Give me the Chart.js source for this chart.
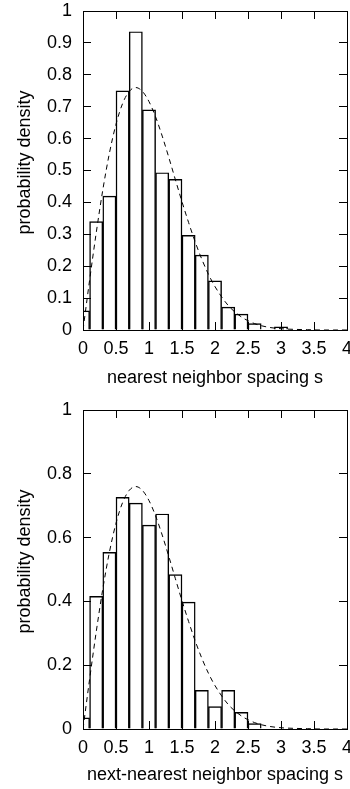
<!DOCTYPE html>
<html>
<head>
<meta charset="utf-8">
<script src="https://cdn.jsdelivr.net/npm/chart.js@4"></script>
<style>
  html, body { margin: 0; padding: 0; background: #fff; overflow: hidden; }
  canvas { display: block; }
</style>
</head>
<body>
<canvas id="top" width="350" height="395"></canvas>
<canvas id="bottom" width="350" height="394"></canvas>
<script>
// histogram bin centres (bin width 0.2, first bin clipped at s = 0)
const binCenters = [0, 0.2, 0.4, 0.6, 0.8, 1.0, 1.2, 1.4, 1.6, 1.8, 2.0, 2.2, 2.4, 2.6, 2.8, 3.0];
const nearestHist = [0.06, 0.34, 0.42, 0.75, 0.935, 0.69, 0.493, 0.472, 0.297, 0.235, 0.154, 0.072, 0.05, 0.02, 0, 0.01];
const nextNearestHist = [0.035, 0.416, 0.554, 0.726, 0.708, 0.639, 0.674, 0.484, 0.398, 0.121, 0.07, 0.121, 0.052, 0.017, 0, 0];

// dashed reference curve
const curveS = [0, 0.1, 0.2, 0.3, 0.4, 0.5, 0.6, 0.7, 0.8, 0.9, 1.0, 1.1, 1.2, 1.3, 1.4, 1.5, 1.6, 1.7, 1.8, 1.9, 2.0,
  2.2, 2.4, 2.6, 2.8, 3.0, 3.2, 3.4, 3.6, 3.8, 4.0];
const curveP = [0, 0.156, 0.304, 0.439, 0.554, 0.645, 0.710, 0.748, 0.760, 0.748, 0.716, 0.668, 0.608, 0.541, 0.471, 0.402,
  0.337, 0.276, 0.222, 0.175, 0.136, 0.077, 0.041, 0.020, 0.009, 0.004, 0.002, 0.001, 0, 0, 0];

const xTicks = [0, 0.5, 1, 1.5, 2, 2.5, 3, 3.5, 4];
const yTicksTop = [0, 0.1, 0.2, 0.3, 0.4, 0.5, 0.6, 0.7, 0.8, 0.9, 1];
const yTicksBottom = [0, 0.2, 0.4, 0.6, 0.8, 1];
const yTitle = "probability density";

const FONT = { family: "'Liberation Sans', Arial, sans-serif", size: 18 };

function fixSize(prop, size) {
  return (s) => {
    s[prop] = size;
    s.paddingLeft = 0; s.paddingRight = 0; s.paddingTop = 0; s.paddingBottom = 0;
  };
}
function setTicks(list) {
  return (s) => { s.ticks = list.map((v) => ({ value: v })); };
}

// y title sits a little above the middle of the axis, as in the original plot
const yTitlePlugin = {
  id: "yTitle",
  afterDraw(chart) {
    const { ctx, chartArea } = chart;
    ctx.save();
    ctx.translate(25.5, (chartArea.top + chartArea.bottom) / 2 - 8);
    ctx.rotate(-Math.PI / 2);
    ctx.font = "18px " + FONT.family;
    ctx.fillStyle = "#000";
    ctx.textAlign = "center";
    ctx.textBaseline = "middle";
    ctx.fillText(yTitle, 0, 0);
    ctx.restore();
  },
};

function makeChart(id, hist, yTicks, xTitle, topH, bottomH, titlePad) {
  const grid = { drawOnChartArea: false, drawTicks: true, tickLength: -8, color: "#000", lineWidth: 1 };
  const border = { display: true, color: "#000", width: 1 };
  return new Chart(document.getElementById(id), {
    type: "bar",
    data: {
      datasets: [
        {
          type: "line",
          data: curveS.map((s, i) => ({ x: s, y: curveP[i] })),
          borderColor: "#000",
          borderWidth: 1,
          borderDash: [5, 4],
          pointRadius: 0,
          cubicInterpolationMode: "monotone",
          fill: false,
          order: 0,
        },
        {
          type: "bar",
          data: binCenters.map((s, i) => ({ x: s, y: hist[i] })),
          backgroundColor: "rgba(255,255,255,0)",
          borderColor: "#000",
          borderWidth: 0.8,
          barPercentage: 1,
          categoryPercentage: 1,
          order: 1,
        },
      ],
    },
    options: {
      responsive: false,
      animation: false,
      layout: { padding: 0 },
      plugins: { legend: { display: false }, tooltip: { enabled: false } },
      scales: {
        x: {
          type: "linear", position: "bottom", min: 0, max: 4, offset: false,
          afterBuildTicks: setTicks(xTicks), afterFit: fixSize("height", bottomH),
          grid: { ...grid, offset: false }, border,
          ticks: { color: "#000", font: FONT, padding: 16, maxRotation: 0, autoSkip: false, callback: (v) => String(v) },
          title: { display: true, text: xTitle, color: "#000", font: FONT, padding: { top: 0, bottom: titlePad } },
        },
        x2: {
          type: "linear", position: "top", min: 0, max: 4, offset: false,
          afterBuildTicks: setTicks(xTicks), afterFit: fixSize("height", topH),
          grid: { ...grid, offset: false }, border, ticks: { display: false },
        },
        y: {
          type: "linear", position: "left", min: 0, max: 1,
          afterBuildTicks: setTicks(yTicks), afterFit: fixSize("width", 83),
          grid, border,
          ticks: { color: "#000", font: FONT, padding: 19, callback: (v) => String(v) },
        },
        y2: {
          type: "linear", position: "right", min: 0, max: 1,
          afterBuildTicks: setTicks(yTicks), afterFit: fixSize("width", 3),
          grid, border, ticks: { display: false },
        },
      },
    },
    plugins: [yTitlePlugin],
  });
}

makeChart("top", nearestHist, yTicksTop, "nearest neighbor spacing s", 11, 65, 6);
makeChart("bottom", nextNearestHist, yTicksBottom, "next-nearest neighbor spacing s", 15, 60, 3);
</script>
</body>
</html>
